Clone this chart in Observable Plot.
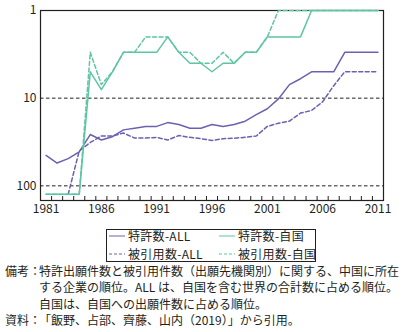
<!DOCTYPE html>
<html><head><meta charset="utf-8">
<script src="https://cdn.jsdelivr.net/npm/d3@7"></script>
<script src="https://cdn.jsdelivr.net/npm/@observablehq/plot@0.6"></script>
<style>
body{margin:0;background:#fff;font-family:"Noto Sans CJK JP",sans-serif;color:#231f20;}
#wrap{position:relative;width:407px;height:332px;overflow:hidden}
#chart{position:absolute;left:0;top:0}
#legend{position:absolute;left:106px;top:229px;width:208px;height:31px;border:1px solid #231f20;font-size:12px}
.item{position:absolute;height:16px;display:flex;align-items:center;white-space:nowrap;line-height:1}
.item svg{margin-right:3px}
.item span{letter-spacing:0.3px}
#notes{position:absolute;left:5px;top:263px;font-size:12px;line-height:16.3px;white-space:nowrap}
.row{display:flex}
.lab{width:34px;flex:none}
</style></head>
<body>
<div id="wrap">
<div id="chart"></div>
<div id="legend"></div>
<div id="notes">
<div class="row"><span class="lab">備考：</span><span>特許出願件数と被引用件数（出願先機関別）に関する、中国に所在</span></div>
<div class="row"><span class="lab"></span><span>する企業の順位。ALL は、自国を含む世界の合計数に占める順位。</span></div>
<div class="row"><span class="lab"></span><span>自国は、自国への出願件数に占める順位。</span></div>
<div class="row"><span class="lab">資料：</span><span>「飯野、占部、齊藤、山内（2019）」から引用。</span></div>
</div>
</div>
<script>
const years = d3.range(1981, 2012);
const patentAll = [45,55,49,41,26,30,27.5,23,22,21,21,19,20,22,22,20,21,20,18.3,15.4,13.2,10.2,7,6,5,5,5,3,3,3,3];
const citedAll = [null,null,125,40,32,27,27,25,28.5,28.5,28,30,26.7,28,29,30.4,29,28.6,28,27,21,19.3,18.3,14.8,13.8,11,7.2,5,5,5,5];
const patentHome = [125,125,125,125,5,8,5,3,3,3,3,2,3,4,4,5,4,4,3,3,2,2,2,2,1,1,1,1,1,1,1];
const citedHome = [125,125,125,125,3,7,5,3,3,2,2,2,3,3,4,4,3,4,3,3,2,1,1,1,1,1,1,1,1,1,1];
const seriesNames = ["特許数-ALL","特許数-自国","被引用数-ALL","被引用数-自国"];
const xLabels = [1981,1986,1991,1996,2001,2006,2011];
const yLabels = [1,10,100];

const purple = "#6a62b0", teal = "#5ec6a2";
const toRows = vals => years.map((y,i)=>({year:y, v:vals[i]})).filter(d=>d.v!=null);
const halfTicks = d3.range(1981.5, 2011, 1);

const plot = Plot.plot({
  width: 407, height: 220,
  marginTop: 10, marginBottom: 20, marginLeft: 40, marginRight: 24,
  style: {fontSize: "12px", fontFamily: "'Noto Sans CJK JP', sans-serif", color: "#231f20", background: "#fff"},
  x: {type: "linear", domain: [1980.5, 2011.5]},
  y: {type: "log", domain: [1, 147], reverse: true},
  marks: [
    Plot.ruleY([10, 100], {stroke: "#231f20", strokeWidth: 1, strokeDasharray: "3.5,2.5"}),
    Plot.ruleX(halfTicks, {x: d=>d, insetTop: 186, stroke: "#231f20", strokeWidth: 1}),
    Plot.frame({stroke: "#231f20", strokeWidth: 1.2}),
    Plot.axisY(yLabels, {tickSize: 0, tickPadding: 4, tickFormat: d=>String(d), label: null}),
    Plot.axisX(xLabels, {tickSize: 0, tickPadding: 4, tickFormat: d=>String(d), label: null}),
    Plot.line(toRows(citedAll), {x: "year", y: "v", stroke: purple, strokeWidth: 1.5, strokeDasharray: "4,2.5"}),
    Plot.line(toRows(patentAll), {x: "year", y: "v", stroke: purple, strokeWidth: 1.5}),
    Plot.line(toRows(citedHome), {x: "year", y: "v", stroke: teal, strokeWidth: 1.5, strokeDasharray: "4,2.5"}),
    Plot.line(toRows(patentHome), {x: "year", y: "v", stroke: teal, strokeWidth: 1.5})
  ]
});
document.getElementById("chart").appendChild(plot);

const legendItems = [
  {name: seriesNames[0], color: purple, dash: null, left: 2, top: -2},
  {name: seriesNames[1], color: teal, dash: null, left: 112, top: -2},
  {name: seriesNames[2], color: purple, dash: "3,2", left: 2, top: 16},
  {name: seriesNames[3], color: teal, dash: "3,2", left: 112, top: 16}
];
const lg = document.getElementById("legend");
for (const it of legendItems) {
  const d = document.createElement("div");
  d.className = "item";
  d.style.left = it.left + "px";
  d.style.top = it.top + "px";
  d.innerHTML = `<svg width="16" height="4"><line x1="0" x2="16" y1="2" y2="2" stroke="${it.color}" stroke-width="1" ${it.dash ? `stroke-dasharray="${it.dash}"` : ""}/></svg><span>${it.name}</span>`;
  lg.appendChild(d);
}
</script>
</body></html>
